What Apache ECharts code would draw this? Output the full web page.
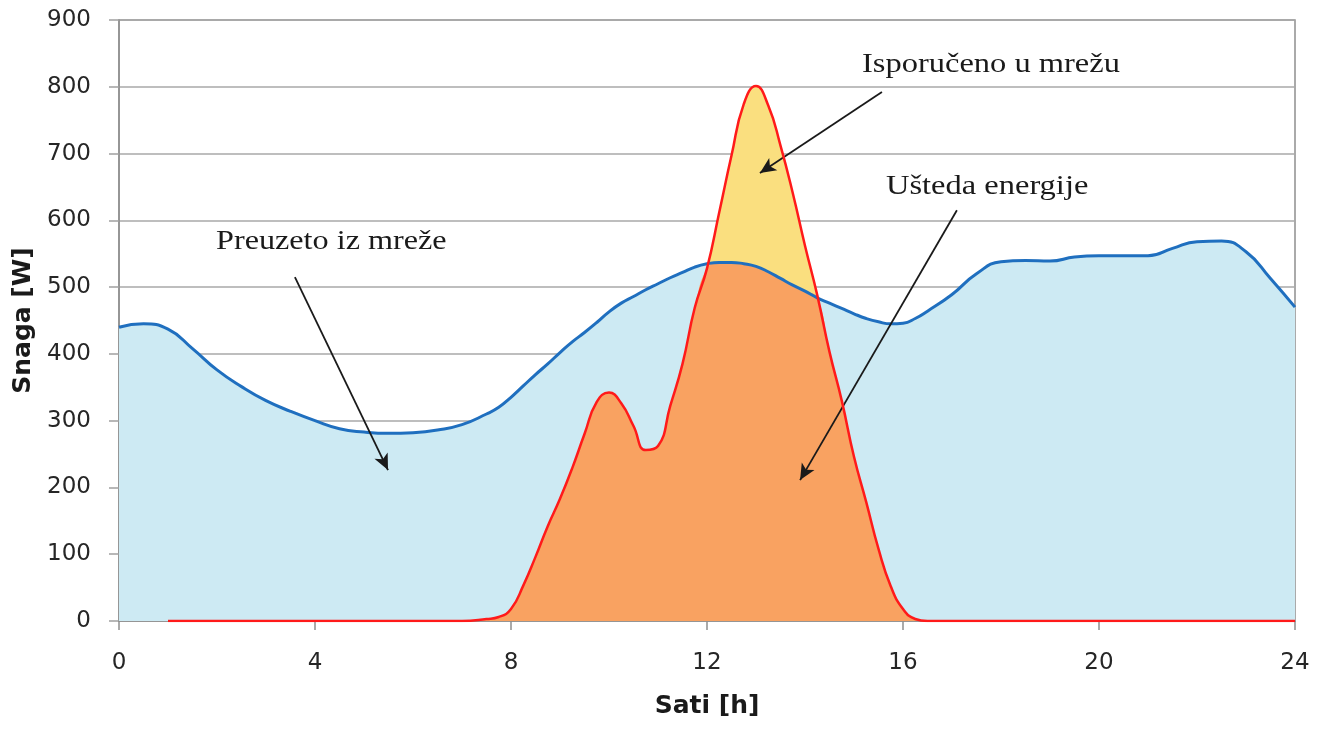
<!DOCTYPE html>
<html>
<head>
<meta charset="utf-8">
<script src="https://cdn.jsdelivr.net/npm/echarts@6/dist/echarts.min.js"></script>
<style>
  html, body { margin: 0; padding: 0; background: #fff; }
  #chart { width: 1322px; height: 729px; }
</style>
</head>
<body>
<div id="chart"></div>
<script>
// Hours of the day (x values): half-hour steps, quarter-hour steps during the PV peak
var hours = [0,0.5,1,1.5,2,2.5,3,3.5,4,4.5,5,5.5,6,6.5,7,7.5,
             7.75,8,8.25,8.5,8.75,9,9.25,9.5,9.75,10,10.25,10.5,10.75,11,11.25,11.5,11.75,12,
             12.25,12.5,12.75,13,13.25,13.5,13.75,14,14.25,14.5,14.75,15,15.25,15.5,15.75,16,16.25,16.5,
             17,17.5,18,18.5,19,19.5,20,20.5,21,21.5,22,22.5,23,23.5,24];
// Consumption (W) – blue curve
var consumption = [440,445,437,408,376,351,330,314,300,288,283,281,282,286,294,310,
                   320,335,352,369,385,402,418,432,447,463,476,486,496,505,514,522,530,535,
                   537,537,535,531,523,513,503,494,484,476,468,460,453,448,445,446,453,464,
                   489,520,538,540,539,545,547,547,547,558,568,569,553,513,470];
// PV production (W) – red curve
var production = ['-','-',0,0,0,0,0,0,0,0,0,0,0,0,0,3,
                  6,18,53,96,142,183,229,280,328,342,326,292,256,262,322,385,469,528,
                  612,697,774,801,772,712,641,562,488,403,330,246,178,108,52,18,3,0,
                  0,0,0,0,0,0,0,0,0,0,0,0,0,0,0];
var xTicks = ['0','4','8','12','16','20','24'];
var yTicks = ['0','100','200','300','400','500','600','700','800','900'];

function pairs(ys) { return hours.map(function (h, i) { return [h, ys[i]]; }); }
var selfUsed = hours.map(function (h, i) {
  var p = production[i];
  if (p === '-') return [h, '-'];
  return [h, Math.min(p, consumption[i])];
});

var SM = 0.5;
var chart = echarts.init(document.getElementById('chart'), null, { renderer: 'canvas' });
var option = {
  animation: false,
  backgroundColor: '#ffffff',
  grid: { left: 119, right: 27, top: 20, bottom: 108, show: true, borderColor: '#8f8f8f', borderWidth: 1.5, backgroundColor: 'transparent' },
  xAxis: {
    type: 'value', min: 0, max: 24, interval: 4,
    name: 'Sati [h]', nameLocation: 'middle', nameGap: 73,
    nameTextStyle: { fontFamily: 'DejaVu Sans', fontWeight: 'bold', fontSize: 25, color: '#1a1a1a' },
    axisLine: { show: true, lineStyle: { color: '#8f8f8f', width: 1.5 } },
    axisTick: { show: true, length: 9, lineStyle: { color: '#8f8f8f', width: 1.5 } },
    axisLabel: { margin: 31, fontFamily: 'DejaVu Sans', fontSize: 23, color: '#262626',
      formatter: function (v) { return xTicks[v / 4]; } },
    splitLine: { show: false }
  },
  yAxis: {
    type: 'value', min: 0, max: 900, interval: 100,
    name: 'Snaga [W]', nameLocation: 'middle', nameGap: 79,
    nameTextStyle: { fontFamily: 'DejaVu Sans', fontWeight: 'bold', fontSize: 25, color: '#1a1a1a' },
    axisLine: { show: true, lineStyle: { color: '#8f8f8f', width: 1.5 } },
    axisTick: { show: true, length: 10, lineStyle: { color: '#a0a0a0', width: 1.5 } },
    axisLabel: { margin: 28, fontFamily: 'DejaVu Sans', fontSize: 23, color: '#262626',
      formatter: function (v) { return yTicks[v / 100]; } },
    splitLine: { show: true, lineStyle: { color: '#a8a8a8', width: 1.5 } }
  },
  series: [
    { name: 'consArea', type: 'line', data: pairs(consumption), smooth: SM, showSymbol: false,
      lineStyle: { width: 0, opacity: 0 }, areaStyle: { color: '#cdeaf3', opacity: 1 }, z: 1 },
    { name: 'pvArea', type: 'line', data: pairs(production), smooth: SM, showSymbol: false,
      lineStyle: { width: 0, opacity: 0 }, areaStyle: { color: '#fadf7f', opacity: 1 }, z: 2 },
    { name: 'selfArea', type: 'line', data: selfUsed, smooth: SM, showSymbol: false,
      lineStyle: { width: 0, opacity: 0 }, areaStyle: { color: '#f9a261', opacity: 1 }, z: 3 },
    { name: 'consLine', type: 'line', data: pairs(consumption), smooth: SM, showSymbol: false,
      lineStyle: { width: 3, color: '#1f6fbf' }, z: 4 },
    { name: 'pvLine', type: 'line', data: pairs(production), smooth: SM, showSymbol: false,
      lineStyle: { width: 2.5, color: '#ff1a1a' }, z: 5,
      markLine: {
        silent: true, symbol: ['none', 'arrow'], symbolSize: [11, 16],
        lineStyle: { color: '#1a1a1a', width: 1.8, type: 'solid' },
        label: { show: false },
        data: [
          [{ coord: [3.59, 515] }, { coord: [5.49, 226] }],
          [{ coord: [15.57, 792] }, { coord: [13.08, 671] }],
          [{ coord: [17.1, 615] }, { coord: [13.9, 211] }]
        ]
      }
    }
  ],
  graphic: [
    { type: 'text', x: 216, y: 242, scaleX: 1.15, z: 100,
      style: { text: 'Preuzeto iz mreže', font: '28px "Liberation Serif"', fill: '#1a1a1a', textVerticalAlign: 'middle' } },
    { type: 'text', x: 862, y: 65, scaleX: 1.16, z: 100,
      style: { text: 'Isporučeno u mrežu', font: '28px "Liberation Serif"', fill: '#1a1a1a', textVerticalAlign: 'middle' } },
    { type: 'text', x: 886, y: 187, scaleX: 1.16, z: 100,
      style: { text: 'Ušteda energije', font: '28px "Liberation Serif"', fill: '#1a1a1a', textVerticalAlign: 'middle' } }
  ]
};
chart.setOption(option);
</script>
</body>
</html>
